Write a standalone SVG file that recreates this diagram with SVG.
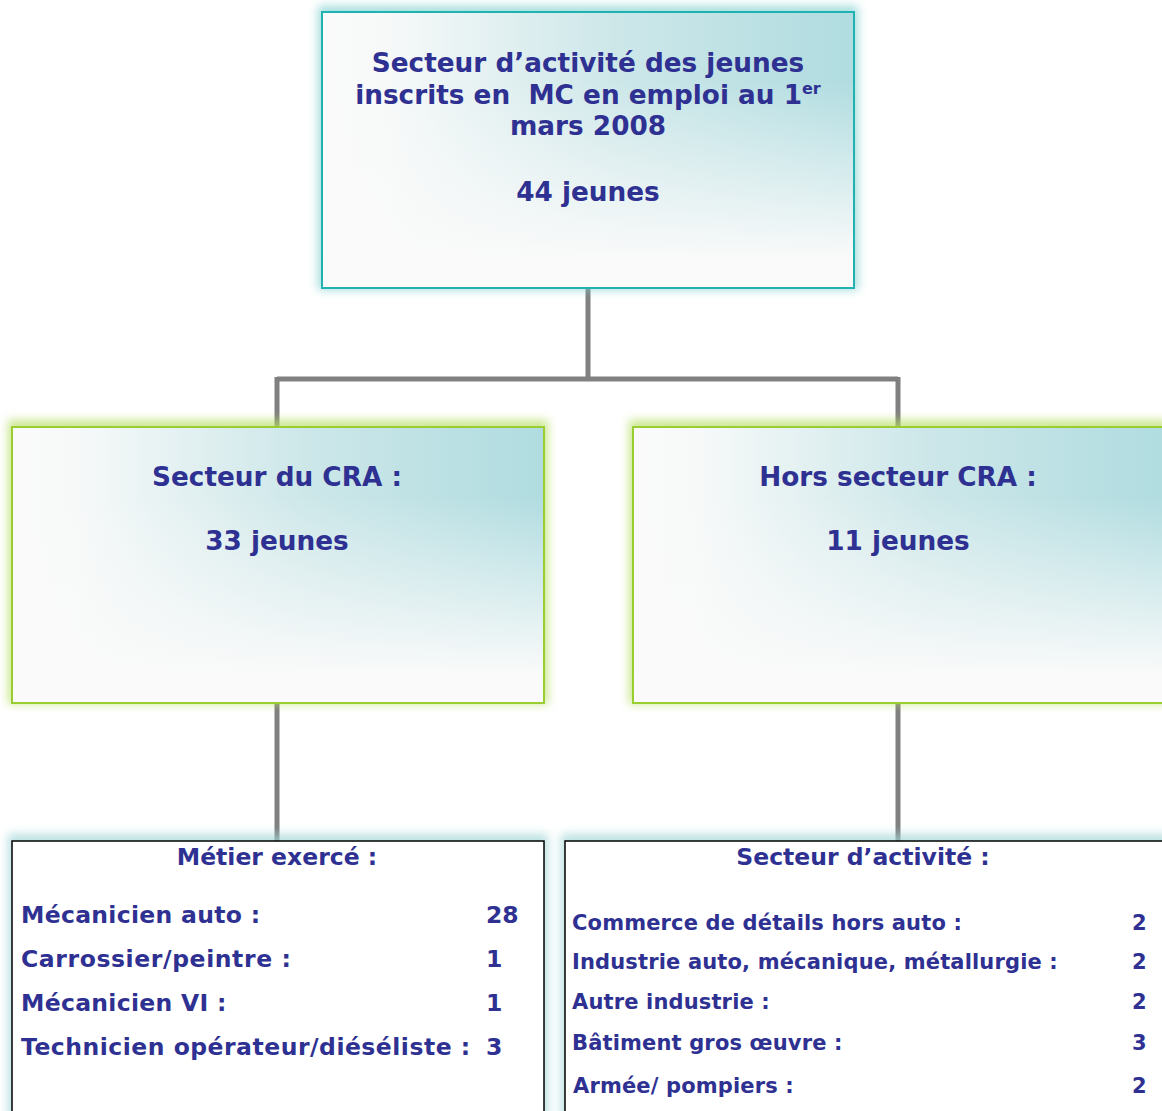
<svg xmlns="http://www.w3.org/2000/svg" width="1162" height="1111" viewBox="0 0 1162 1111">
<defs>
<linearGradient id="hG" x1="0" y1="0" x2="1" y2="0">
<stop offset="0" stop-color="#fafafa"/>
<stop offset="0.12" stop-color="#f7f9f9"/>
<stop offset="0.55" stop-color="#cde7e9"/>
<stop offset="1" stop-color="#b0dce0"/>
</linearGradient>
<linearGradient id="vG" x1="0" y1="0" x2="0" y2="1">
<stop offset="0" stop-color="#fafafa" stop-opacity="0"/>
<stop offset="0.25" stop-color="#fafafa" stop-opacity="0"/>
<stop offset="0.9" stop-color="#fafafa" stop-opacity="1"/>
<stop offset="1" stop-color="#fafafa" stop-opacity="1"/>
</linearGradient>
<filter id="blur" x="-10%" y="-20%" width="120%" height="140%">
<feGaussianBlur stdDeviation="5"/>
</filter>
<style>
.t{font-family:"DejaVu Sans",Verdana,sans-serif;font-weight:bold;fill:#2e3192}
.c{text-anchor:middle}
.conn{stroke:#808080;stroke-width:5;fill:none}
.h{fill:url(#hG)}
.v{fill:url(#vG)}
.teal{fill:none;stroke:#1fb2b0;stroke-width:2}
.green{fill:none;stroke:#9acd32;stroke-width:2}
.plain{fill:#ffffff;stroke:#000000;stroke-width:1.5}
.s{font-size:21px;letter-spacing:0.15px}
</style>
</defs>
<rect width="1162" height="1111" fill="#ffffff"/>

<g id="connectors">
<path class="conn" d="M588 289 V379 M277 379 H898 M277 377 V427 M898 377 V427"/>
<path class="conn" d="M277 703 V841 M898 703 V841"/>
</g>

<g id="top">
<rect x="318" y="6" width="540" height="284" fill="#7fcfd0" filter="url(#blur)" opacity="0.7"/>
<rect class="h" x="322" y="12" width="532" height="276"/>
<rect class="v" x="322" y="12" width="532" height="276"/>
<rect class="teal" x="322" y="12" width="532" height="276"/>
<text class="t c" font-size="26.3" x="588" y="72">Secteur d’activité des jeunes</text>
<text class="t c" font-size="26.3" x="588" y="104" xml:space="preserve">inscrits en  MC en emploi au 1<tspan font-size="16" dy="-10">er</tspan></text>
<text class="t c" font-size="26.3" x="588" y="135">mars 2008</text>
<text class="t c" font-size="26.3" x="588" y="201">44 jeunes</text>
</g>

<g id="cra">
<rect x="8" y="420" width="540" height="284" fill="#b5dd60" filter="url(#blur)" opacity="0.7"/>
<rect class="h" x="12" y="427" width="532" height="276"/>
<rect class="v" x="12" y="427" width="532" height="276"/>
<rect class="green" x="12" y="427" width="532" height="276"/>
<text class="t c" font-size="26.3" x="277" y="486">Secteur du CRA :</text>
<text class="t c" font-size="26.3" x="277" y="550">33 jeunes</text>
</g>

<g id="hors">
<rect x="629" y="420" width="540" height="284" fill="#b5dd60" filter="url(#blur)" opacity="0.7"/>
<rect class="h" x="633" y="427" width="532" height="276"/>
<rect class="v" x="633" y="427" width="532" height="276"/>
<rect class="green" x="633" y="427" width="540" height="276"/>
<text class="t c" font-size="26.3" x="898" y="486">Hors secteur CRA :</text>
<text class="t c" font-size="26.3" x="898" y="550">11 jeunes</text>
</g>

<g id="metier">
<rect x="8" y="834" width="540" height="290" fill="#9fd4d6" filter="url(#blur)" opacity="0.7"/>
<rect class="plain" x="12" y="841" width="532" height="280"/>
<text class="t c" font-size="23.5" x="277" y="865">Métier exercé :</text>
<text class="t" font-size="23.5" x="21" y="923" letter-spacing="0.3">Mécanicien auto :</text>
<text class="t" font-size="23.5" x="486" y="923">28</text>
<text class="t" font-size="23.5" x="21" y="967" letter-spacing="0.6">Carrossier/peintre :</text>
<text class="t" font-size="23.5" x="486" y="967">1</text>
<text class="t" font-size="23.5" x="21" y="1011" letter-spacing="0.3">Mécanicien VI :</text>
<text class="t" font-size="23.5" x="486" y="1011">1</text>
<text class="t" font-size="23.5" x="21" y="1055" letter-spacing="0.5">Technicien opérateur/diéséliste :</text>
<text class="t" font-size="23.5" x="486" y="1055">3</text>
</g>

<g id="secteur">
<rect x="561" y="834" width="620" height="290" fill="#9fd4d6" filter="url(#blur)" opacity="0.7"/>
<rect class="plain" x="565" y="841" width="610" height="280"/>
<text class="t c" font-size="23.5" x="863" y="865">Secteur d’activité :</text>
<text class="t s" x="572" y="930">Commerce de détails hors auto :</text>
<text class="t s" x="1132" y="930">2</text>
<text class="t s" x="572" y="969">Industrie auto, mécanique, métallurgie :</text>
<text class="t s" x="1132" y="969">2</text>
<text class="t s" x="572" y="1009">Autre industrie :</text>
<text class="t s" x="1132" y="1009">2</text>
<text class="t s" x="572" y="1050">Bâtiment gros œuvre :</text>
<text class="t s" x="1132" y="1050">3</text>
<text class="t s" x="573" y="1093">Armée/ pompiers :</text>
<text class="t s" x="1132" y="1093">2</text>
</g>
</svg>
